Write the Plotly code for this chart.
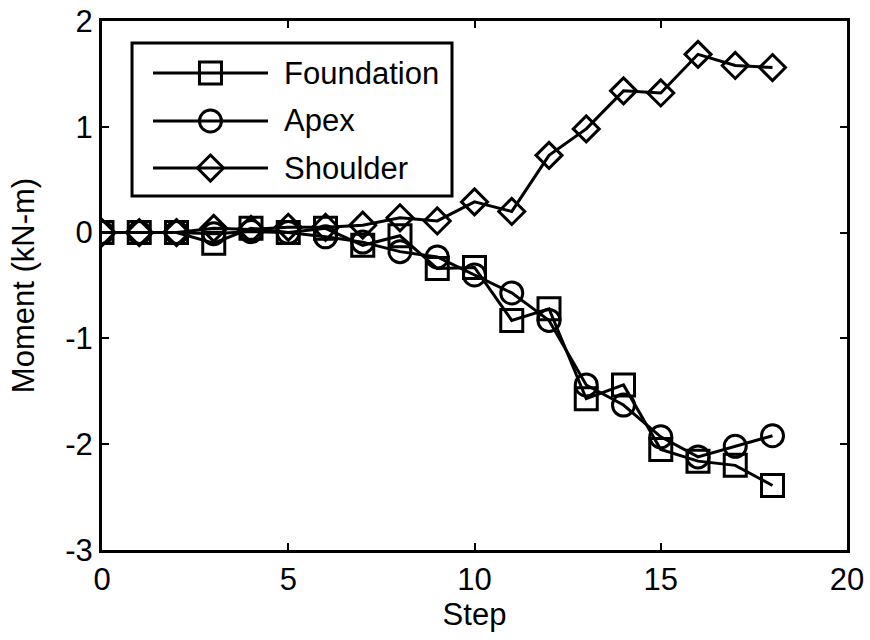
import plotly.graph_objects as go

steps = list(range(19))
foundation = [0, 0, 0, -0.10, 0.04, 0.0, 0.04, -0.12, -0.03, -0.34, -0.33, -0.83, -0.72,
              -1.57, -1.44, -2.05, -2.16, -2.20, -2.39]
apex = [0, 0, 0, -0.01, 0.01, 0.0, -0.04, -0.09, -0.18, -0.23, -0.40, -0.57, -0.83,
        -1.44, -1.63, -1.93, -2.12, -2.02, -1.92]
shoulder = [0, 0, 0, 0.04, 0.03, 0.05, 0.05, 0.07, 0.14, 0.11, 0.29, 0.20, 0.73,
            0.98, 1.34, 1.32, 1.685, 1.58, 1.56]

series_names = ["Foundation", "Apex", "Shoulder"]
series_data = [foundation, apex, shoulder]
symbols = ["square-open", "circle-open", "diamond-open"]
sizes = [22, 22, 20]

x_ticks = [0, 5, 10, 15, 20]
x_ticklabels = ["0", "5", "10", "15", "20"]
y_ticks = [-3, -2, -1, 0, 1, 2]
y_ticklabels = ["-3", "-2", "-1", "0", "1", "2"]

FONT = "Liberation Sans, Arial, sans-serif"
FS = 31
fig = go.Figure()

for name, vals, sym, sz in zip(series_names, series_data, symbols, sizes):
    fig.add_trace(go.Scatter(
        x=steps, y=vals, name=name, mode="lines+markers",
        line=dict(color="black", width=3),
        marker=dict(symbol=sym, size=sz, color="black", line=dict(width=3, color="black")),
        showlegend=False,
    ))

# custom legend (box, key lines, key markers, labels) in paper coordinates
lx0, lx1, ly0, ly1 = 0.0403, 0.4698, 0.6692, 0.9584
rows = [0.9017, 0.8110, 0.7221]
kx0, kx1, kxm, tx = 0.0685, 0.2228, 0.1456, 0.2416
shapes = [dict(type="rect", xref="paper", yref="paper", x0=lx0, x1=lx1, y0=ly0, y1=ly1,
               line=dict(color="black", width=3), fillcolor="white", layer="below")]
annotations = []
for name, ry in zip(series_names, rows):
    shapes.append(dict(type="line", xref="paper", yref="paper", x0=kx0, x1=kx1, y0=ry, y1=ry,
                       line=dict(color="black", width=3), layer="below"))
    annotations.append(dict(xref="paper", yref="paper", x=tx, y=ry, text=name, showarrow=False,
                            xanchor="left", yanchor="middle",
                            font=dict(family=FONT, size=FS, color="black")))
for sym, sz, ry in zip(symbols, sizes, rows):
    fig.add_trace(go.Scatter(
        x=[kxm], y=[ry], xaxis="x2", yaxis="y2", mode="markers", showlegend=False,
        hoverinfo="skip",
        marker=dict(symbol=sym, size=sz, color="black", line=dict(width=3, color="black")),
    ))

axis_common = dict(showgrid=False, zeroline=False, showline=True, linecolor="black", linewidth=3,
                   mirror="ticks", ticks="inside", ticklen=7, tickwidth=2, tickcolor="black",
                   automargin=False, ticklabeloverflow="allow",
                   tickfont=dict(family=FONT, size=FS, color="black"))

fig.update_layout(
    width=870, height=640,
    margin=dict(l=102, r=23, t=21, b=90),
    paper_bgcolor="white", plot_bgcolor="white",
    font=dict(family=FONT, size=FS, color="black"),
    xaxis=dict(range=[0, 20], tickvals=x_ticks, ticktext=x_ticklabels,
               title=dict(text="Step", font=dict(family=FONT, size=FS), standoff=4),
               **axis_common),
    yaxis=dict(range=[-3, 2], tickvals=y_ticks, ticktext=y_ticklabels,
               title=dict(text="Moment (kN-m)", font=dict(family=FONT, size=FS), standoff=22),
               **axis_common),
    xaxis2=dict(domain=[0, 1], range=[0, 1], overlaying="x", visible=False, anchor="y2"),
    yaxis2=dict(domain=[0, 1], range=[0, 1], overlaying="y", visible=False, anchor="x2"),
    shapes=shapes,
    annotations=annotations,
    showlegend=False,
)

fig.write_html("out.html", config={"displayModeBar": False},
               post_script="document.body.style.margin='0';document.body.style.overflow='hidden';")
